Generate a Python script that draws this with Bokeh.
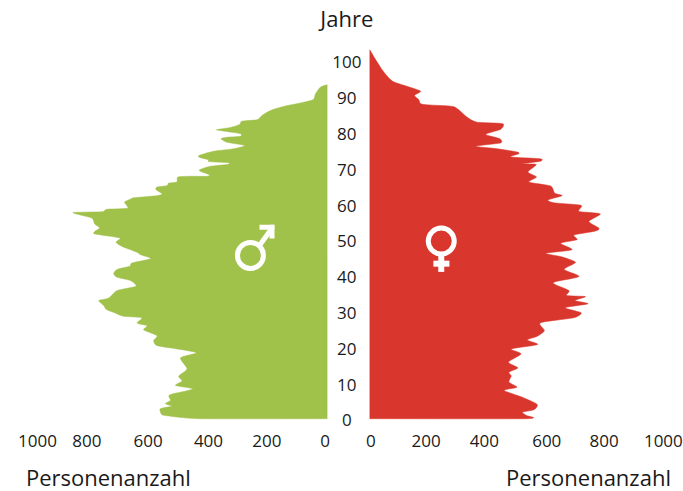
from bokeh.plotting import figure
from bokeh.models import Range1d, ColumnDataSource
from bokeh.core.properties import value
from bokeh.embed import file_html
from bokeh.resources import INLINE

men_value = [0,23,40,48,91,149,194,223,240,292,300,332,380,343,297,297,343,364,343,282,320,389,440,435,406,406,337,343,400,438,429,403,412,469,512,515,543,549,583,587,566,583,663,672,695,684,755,772,871,846,806,797,780,795,797,
711,724,703,652,640,604,669,677,720,732,720,675,655,720,749,783,766,757,726,698,635,652,617,629,583,595,583,515,448,503,480,509,497,520,460,532,543,537,555,532,572,569,555,435,0]
men_age = [93.8,93.1,91.2,89.6,88.7,87.7,86.6,85.2,84.0,83.6,82.7,81.8,81.2,80.7,80.1,79.4,79.1,78.7,77.7,76.8,75.9,75.2,74.0,73.4,72.8,72.3,72.0,71.5,71.0,70.0,69.4,68.6,68.2,68.2,68.0,66.6,66.3,65.6,65.2,64.5,63.3,62.8,62.2,61.9,61.0,59.3,59.0,58.3,58.1,57.4,56.5,54.9,53.8,52.9,52.1,
51.0,49.8,48.6,47.0,46.3,45.2,44.0,43.1,42.2,41.0,40.0,39.1,37.5,36.3,34.2,33.5,32.1,31.0,30.0,29.1,28.7,27.2,26.5,25.3,23.7,22.3,20.9,20.0,18.9,17.5,14.4,12.4,11.0,9.8,8.8,7.4,6.8,5.6,4.7,4.0,3.3,1.9,1.4,0.5,0.5]

women_value = [0,25,48,77,117,174,153,168,180,277,300,334,368,456,448,397,446,448,362,437,505,511,483,585,585,523,571,542,572,545,620,634,660,611,631,725,717,791,751,786,774,700,711,654,694,603,654,706,666,718,628,683,675,740,703,749,669,725,700,585,599,574,540,576,485,519,475,508,477,485,477,505,460,523,574,563,523,537,537,0]
women_age = [103.5,100.1,97.3,94.8,93.6,92.0,90.8,89.6,88.3,87.8,87.1,84.7,83.3,82.9,81.3,79.9,78.7,77.5,76.6,75.9,75.0,74.5,73.6,73.1,72.4,71.7,71.5,69.4,68.0,66.6,65.5,63.5,62.8,61.6,60.8,60.1,58.4,57.7,55.6,53.7,52.9,51.8,50.5,49.5,47.7,46.7,45.8,44.2,42.2,40.2,38.5,36.3,34.9,34.6,33.5,32.6,31.5,30.1,28.7,27.3,25.1,23.5,22.5,21.2,20.0,18.6,16.3,14.7,13.5,12.4,10.7,9.3,8.4,6.5,4.5,3.0,2.3,1.4,0.5,0.5]

age_ticks = [0,10,20,30,40,50,60,70,80,90,100]
count_ticks = [0,200,400,600,800,1000]
men_tick_nudge = [-2,-2,-2,-4,-7,2]
women_tick_nudge = [1,-2,-2,2,1,2]

GREEN = "#A0C14A"
RED = "#D9362D"
INK = "#1a1a1a"
FONT = "Open Sans"


def rounded(xs, ys, k=0.32, n=5):
    """Draw the outline as a curve through the points that were read."""
    X, Y = [], []
    m = len(xs)
    for i in range(m - 1):
        x0, y0 = xs[max(i - 1, 0)], ys[max(i - 1, 0)]
        x1, y1 = xs[i], ys[i]
        x2, y2 = xs[i + 1], ys[i + 1]
        x3, y3 = xs[min(i + 2, m - 1)], ys[min(i + 2, m - 1)]
        for j in range(n):
            t = j / n
            h1 = 2*t**3 - 3*t**2 + 1
            h2 = t**3 - 2*t**2 + t
            h3 = -2*t**3 + 3*t**2
            h4 = t**3 - t**2
            X.append(h1*x1 + h2*k*(x2-x0) + h3*x2 + h4*k*(x3-x1))
            Y.append(h1*y1 + h2*k*(y2-y0) + h3*y2 + h4*k*(y3-y1))
    X.append(xs[-1]); Y.append(ys[-1])
    return X, Y


p = figure(width=683, height=491, output_backend="svg", toolbar_location=None,
           x_range=Range1d(-1267, 1076), y_range=Range1d(-19.83, 117.3),
           min_border=0, outline_line_color=None, background_fill_color="white")
p.extra_x_ranges = {"men": Range1d(1120, -1222)}
p.axis.visible = False
p.grid.visible = False

mx, my = rounded(men_value, men_age)
wx, wy = rounded(women_value, women_age)
p.patch(mx, my, x_range_name="men", fill_color=GREEN, line_color=GREEN, line_width=0.5)
p.patch(wx, wy, fill_color=RED, line_color=RED, line_width=0.5)

# gender symbols
p.scatter([263], [46.1], x_range_name="men", marker="circle", size=26, fill_color=None, line_color="white", line_width=5)
p.segment([232], [48.9], [190], [53.6], x_range_name="men", line_color="white", line_width=5)
p.segment([232], [54.0], [181], [54.0], x_range_name="men", line_color="white", line_width=5)
p.segment([189], [54.7], [189], [50.8], x_range_name="men", line_color="white", line_width=5)
p.scatter([245], [50.1], marker="circle", size=26, fill_color=None, line_color="white", line_width=5)
p.segment([245], [46.3], [245], [41.5], line_color="white", line_width=6)
p.segment([218], [43.8], [273], [43.8], line_color="white", line_width=6)

# age labels
p.text([-79] * len(age_ticks), age_ticks, text=[str(a) for a in age_ticks], text_font=value(FONT),
       text_font_size="17px", text_color=INK, text_align="center", text_baseline="middle")
p.text([-79], [112.5], text=["Jahre"], text_font=value(FONT), text_font_size="22px",
       text_color=INK, text_align="center", text_baseline="middle")

# count labels
men_src = ColumnDataSource(dict(x=count_ticks, y=[-5.6] * 6, t=[str(c) for c in count_ticks], o=men_tick_nudge))
women_src = ColumnDataSource(dict(x=count_ticks, y=[-5.6] * 6, t=[str(c) for c in count_ticks], o=women_tick_nudge))
p.text("x", "y", text="t", x_offset="o", source=men_src, x_range_name="men", text_font=value(FONT),
       text_font_size="17px", text_color=INK, text_align="center", text_baseline="middle")
p.text("x", "y", text="t", x_offset="o", source=women_src, text_font=value(FONT),
       text_font_size="17px", text_color=INK, text_align="center", text_baseline="middle")
p.text([750], [-15.9], text=["Personenanzahl"], x_range_name="men", text_font=value(FONT), text_font_size="22px",
       text_color=INK, text_align="center", text_baseline="middle")
p.text([750], [-15.9], text=["Personenanzahl"], text_font=value(FONT), text_font_size="22px",
       text_color=INK, text_align="center", text_baseline="middle")

open("out.html", "w").write(file_html(p, INLINE))
